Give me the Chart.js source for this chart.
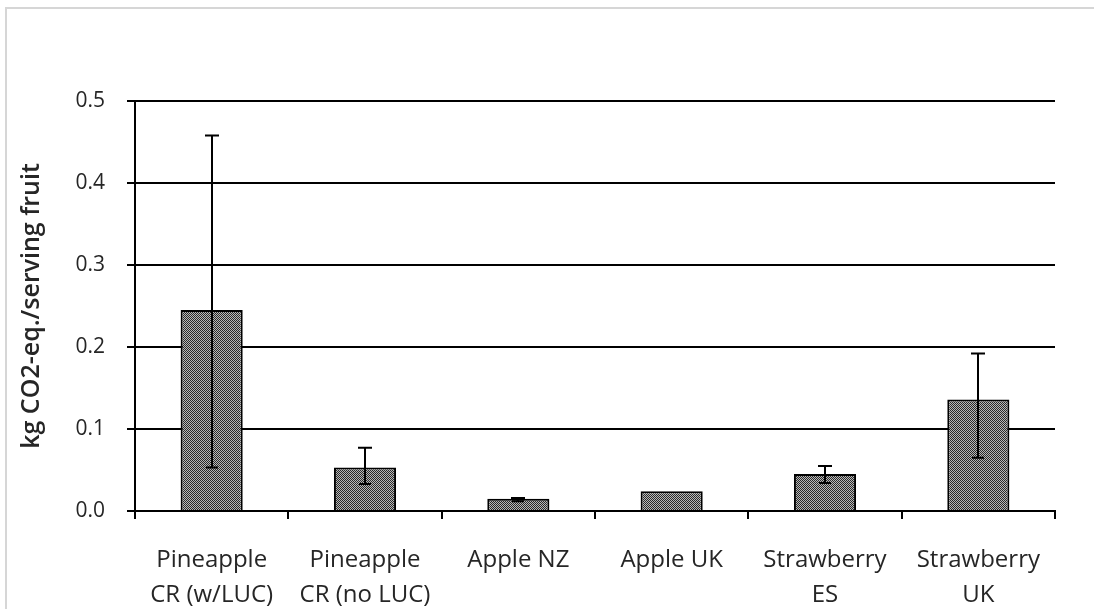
<!DOCTYPE html>
<html>
<head>
<meta charset="utf-8">
<script src="https://cdn.jsdelivr.net/npm/chart.js@4.4.1/dist/chart.umd.min.js"></script>
<style>
  html, body { margin: 0; padding: 0; background: #fff; overflow: hidden; }
  #wrap { position: relative; width: 1094px; height: 609px; }
  #frame { position: absolute; left: 5px; top: 7px; width: 1200px; height: 700px;
           border: 2px solid #d6d6d6; box-sizing: border-box; }
  canvas { position: absolute; left: 0; top: 0; }
</style>
</head>
<body>
<div id="wrap">
  <div id="frame"></div>
  <canvas id="c" width="1094" height="609"></canvas>
</div>
<script>
// Carbon footprint per serving of fruit, with uncertainty ranges
const categories = [
  ["Pineapple", "CR (w/LUC)"],
  ["Pineapple", "CR (no LUC)"],
  ["Apple NZ"],
  ["Apple UK"],
  ["Strawberry", "ES"],
  ["Strawberry", "UK"]
];
const footprint = [0.245, 0.053, 0.015, 0.024, 0.045, 0.136];
const rangeHigh = [0.458, 0.077, 0.016, null, 0.055, 0.192];
const rangeLow  = [0.053, 0.033, 0.012, null, 0.034, 0.065];
const yTicks = [0, 0.1, 0.2, 0.3, 0.4, 0.5];

// fine checkered fill for the bars
function checkerPattern() {
  const p = document.createElement('canvas');
  p.width = 2; p.height = 2;
  const g = p.getContext('2d');
  g.fillStyle = '#b8b8b8'; g.fillRect(0, 0, 2, 2);
  g.fillStyle = '#2a2a2a'; g.fillRect(0, 0, 1, 1); g.fillRect(1, 1, 1, 1);
  return document.getElementById('c').getContext('2d').createPattern(p, 'repeat');
}

// whiskers from rangeLow to rangeHigh drawn through the y scale
const errorBars = {
  id: 'errorBars',
  afterDatasetsDraw(chart) {
    const ctx = chart.ctx;
    const y = chart.scales.y;
    const meta = chart.getDatasetMeta(0);
    ctx.save();
    ctx.strokeStyle = '#000';
    ctx.lineWidth = 2;
    meta.data.forEach((bar, i) => {
      if (rangeHigh[i] == null) return;
      const x = Math.round(bar.x);
      const yh = y.getPixelForValue(rangeHigh[i]);
      const yl = y.getPixelForValue(rangeLow[i]);
      ctx.beginPath();
      ctx.moveTo(x, yh); ctx.lineTo(x, yl);
      ctx.moveTo(x - 7, yh); ctx.lineTo(x + 7, yh);
      ctx.moveTo(x - 6, yl); ctx.lineTo(x + 6, yl);
      ctx.stroke();
    });
    ctx.restore();
  }
};

const textColor = '#262626';
const fontFamily = '"Open Sans", "DejaVu Sans", sans-serif';

new Chart(document.getElementById('c'), {
  type: 'bar',
  data: {
    labels: categories,
    datasets: [{
      data: footprint,
      backgroundColor: checkerPattern(),
      borderColor: '#000',
      borderWidth: 2,
      barPercentage: 0.405,
      categoryPercentage: 1.0
    }]
  },
  options: {
    responsive: false,
    animation: false,
    devicePixelRatio: 1,
    layout: { padding: { left: 0, top: 101, right: 39, bottom: 0 } },
    plugins: { legend: { display: false }, tooltip: { enabled: false } },
    scales: {
      x: {
        offset: true,
        grid: { offset: true, drawOnChartArea: false, drawTicks: true, tickLength: 8,
                color: '#000', lineWidth: 2 },
        border: { color: '#000', width: 2 },
        ticks: { color: textColor, padding: 24, maxRotation: 0, autoSkip: false,
                 font: { family: fontFamily, size: 24, lineHeight: 1.46 } },
        afterFit(scale) { scale.height = 98; }
      },
      y: {
        min: 0, max: 0.5,
        afterBuildTicks(scale) { scale.ticks = yTicks.map(v => ({ value: v })); },
        grid: { color: '#000', lineWidth: 2, tickLength: 8 },
        border: { color: '#000', width: 2 },
        ticks: { color: textColor, padding: 22,
                 font: { family: fontFamily, size: 21 },
                 callback: v => Number(v).toFixed(1) },
        title: { display: true, text: 'kg CO2-eq./serving fruit', color: textColor,
                 padding: { top: 17, bottom: 0 },
                 font: { family: fontFamily, size: 25, weight: '600' } },
        afterFit(scale) { scale.width = 135; }
      }
    }
  },
  plugins: [errorBars]
});
</script>
</body>
</html>
